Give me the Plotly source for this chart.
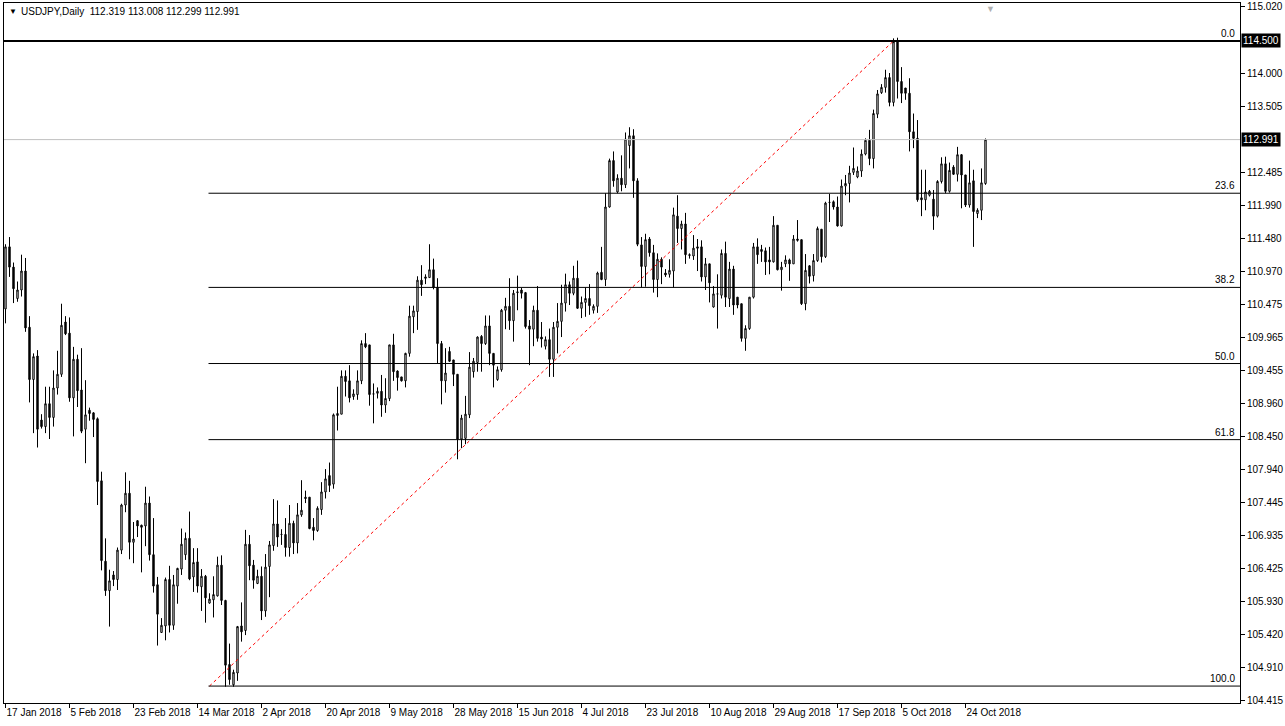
import pandas as pd
import plotly.graph_objects as go

# ---------------- data ----------------
opens = [110.40,111.35,111.04,110.56,110.69,110.98,110.12,109.32,109.68,108.70,
         108.60,108.95,108.74,109.19,109.40,110.20,110.03,109.04,109.63,109.16,
         108.56,108.85,108.81,108.72,107.77,106.54,106.09,106.33,106.26,106.71,
         107.40,107.58,106.83,107.16,107.09,107.08,107.43,106.64,106.18,105.45,
         105.55,106.26,105.56,106.16,106.42,106.64,106.89,106.30,106.53,106.15,
         106.31,105.90,105.95,106.01,106.48,105.94,104.96,104.65,104.83,105.55,
         105.48,106.80,106.48,106.20,106.31,105.78,106.46,106.78,107.11,106.95,
         106.95,106.75,107.12,106.82,107.25,107.52,107.52,107.06,107.01,107.33,
         107.60,107.85,107.72,108.77,108.79,109.37,109.30,109.06,109.09,109.30,
         109.87,109.85,109.10,109.11,109.14,108.93,109.03,109.85,109.45,109.36,
         109.30,109.72,110.28,110.36,110.84,110.89,110.88,111.00,110.73,109.87,
         109.30,109.75,109.62,109.40,108.41,108.42,108.78,109.44,109.58,109.98,
         109.87,110.14,109.72,109.32,109.47,110.38,110.44,110.22,110.65,110.69,
         110.65,110.14,110.09,110.38,109.97,109.83,109.93,109.63,110.12,110.21,
         110.49,110.77,110.64,110.87,110.41,110.50,110.56,110.38,110.44,110.96,
         110.85,111.96,112.67,112.19,112.40,112.30,112.90,113.05,112.36,111.38,
         111.05,111.47,111.26,110.85,111.16,110.95,110.93,110.98,111.82,111.63,
         111.70,111.23,111.21,111.35,111.35,110.89,111.09,110.43,110.63,110.61,
         111.25,110.56,111.01,110.58,110.48,109.95,110.10,110.58,111.35,111.31,
         111.29,111.15,111.12,111.68,111.00,111.09,111.15,111.09,111.47,111.46,
         110.48,111.06,110.91,111.14,111.62,111.20,112.03,112.04,111.96,111.67,
         112.28,112.32,112.49,112.42,112.51,112.77,112.98,112.70,113.38,113.71,
         113.79,113.94,113.56,114.49,113.88,113.78,113.70,113.11,113.01,112.10,
         112.07,112.14,112.08,111.82,112.35,112.62,112.20,112.57,112.46,112.76,
         112.45,111.99,112.36,111.86,111.91,112.319]
highs = [111.39,111.50,111.11,110.82,111.23,111.18,110.29,109.72,109.77,108.79,
         109.21,109.21,109.46,109.76,110.48,110.29,110.27,109.82,109.70,109.80,
         109.31,108.89,108.82,108.74,107.91,106.89,106.41,106.39,106.75,107.42,
         107.90,107.77,107.14,107.17,107.10,107.68,107.53,107.20,106.30,105.67,
         106.29,106.47,106.33,106.44,107.04,106.98,107.30,106.74,106.74,106.42,
         106.33,106.05,106.31,106.61,106.63,105.95,105.28,104.88,105.55,105.91,
         107.02,106.94,106.56,106.41,106.46,106.65,106.85,107.49,107.47,107.03,
         107.20,107.40,107.16,107.43,107.78,107.62,107.52,107.20,107.38,107.75,
         107.95,108.05,108.80,109.21,109.46,109.46,109.54,109.17,109.46,109.92,
         110.03,109.85,109.26,109.20,109.39,109.34,109.85,110.02,109.46,109.36,
         109.73,110.45,110.45,110.90,111.07,110.93,111.39,111.17,110.87,109.91,
         109.80,109.82,109.62,109.40,108.78,109.07,109.74,109.65,109.98,110.00,
         110.30,110.30,109.72,109.52,110.40,110.57,110.87,110.69,110.91,110.72,
         110.66,110.23,110.45,110.75,110.20,109.98,110.10,110.20,110.49,110.77,
         110.94,110.82,111.06,111.14,110.59,110.73,110.78,110.47,110.97,111.35,
         112.17,112.70,112.81,112.46,112.75,113.10,113.18,113.15,112.40,111.50,
         111.55,111.50,111.38,111.25,111.19,111.01,111.16,111.95,112.14,111.75,
         111.87,111.25,111.53,111.47,111.45,111.18,111.09,110.75,110.93,111.31,
         111.43,111.12,111.06,110.58,110.48,110.15,110.58,111.41,111.48,111.38,
         111.34,111.35,111.82,111.68,111.12,111.22,111.17,111.53,111.76,111.46,
         111.24,111.07,111.24,111.66,111.62,112.04,112.16,112.06,112.12,112.38,
         112.45,112.59,112.87,112.58,112.84,113.01,113.14,113.45,113.75,113.84,
         114.06,114.01,114.54,114.55,114.10,113.78,113.93,113.39,113.29,112.53,
         112.53,112.22,112.22,112.37,112.72,112.73,112.64,112.60,112.88,112.77,
         112.45,112.67,112.53,111.94,112.55,113.008]
lows = [110.18,110.89,110.49,110.51,110.59,110.05,108.97,108.50,108.28,108.57,
        108.50,108.41,108.60,109.09,109.36,110.00,108.98,108.45,108.90,108.50,
        108.04,108.69,108.44,107.40,106.40,106.01,105.54,106.16,106.10,106.65,
        107.29,106.57,106.51,106.91,106.37,106.77,106.55,106.06,105.25,105.45,
        105.33,105.45,105.49,105.89,106.33,106.56,106.25,106.07,106.06,105.78,
        105.60,105.89,105.68,106.00,105.87,104.62,104.65,104.62,104.71,105.31,
        105.41,106.25,106.12,106.19,105.64,105.69,105.99,106.70,106.76,106.79,
        106.61,106.61,106.65,106.66,107.22,107.43,107.03,106.86,106.99,107.25,
        107.50,107.60,107.65,108.54,108.79,109.06,108.97,109.01,109.01,109.25,
        109.80,108.92,108.65,109.03,108.75,108.81,108.99,109.30,109.15,109.29,
        109.20,109.67,110.03,110.08,110.60,110.78,110.88,110.70,109.57,108.94,
        109.12,109.59,109.22,108.10,108.27,108.33,108.73,109.35,109.44,109.44,
        109.85,109.54,109.20,109.30,109.44,110.09,110.08,109.90,110.38,110.56,
        110.10,109.54,109.83,109.90,109.81,109.78,109.36,109.36,109.72,109.97,
        110.36,110.46,110.61,110.40,110.26,110.28,110.31,110.33,110.34,110.84,
        110.75,111.95,112.27,112.17,112.20,112.25,112.55,112.10,111.36,110.73,
        110.74,111.20,110.65,110.58,110.78,110.89,110.88,110.73,111.41,111.31,
        111.09,111.17,111.15,110.98,110.82,110.69,110.50,110.42,110.10,110.56,
        110.43,110.43,110.31,110.41,109.90,109.76,110.08,110.56,111.09,111.12,
        110.92,110.93,111.11,110.99,110.68,111.04,110.83,111.09,111.43,110.46,
        110.38,110.79,110.82,111.12,111.11,111.18,111.73,111.92,111.66,111.66,
        112.14,112.03,112.45,112.40,112.42,112.75,112.60,112.55,113.32,113.69,
        113.71,113.50,113.50,113.62,113.55,113.60,112.81,112.86,112.04,111.82,
        111.91,112.12,111.61,111.80,112.32,112.17,112.18,112.45,112.35,111.94,
        111.96,111.95,111.35,111.79,111.76,112.299]
closes = [111.35,111.04,110.71,110.69,110.98,110.11,109.32,109.67,108.56,108.60,
          108.95,108.74,109.19,109.40,110.15,110.02,109.04,109.63,109.15,108.53,
          108.78,108.80,108.71,107.76,106.55,106.09,106.24,106.26,106.71,107.40,
          107.58,106.83,106.88,107.08,107.06,107.43,106.64,106.16,105.73,105.56,
          106.26,105.56,106.18,106.43,106.80,106.89,106.27,106.52,106.16,106.31,
          105.98,105.96,106.03,106.48,105.94,104.95,104.73,104.84,105.54,105.46,
          106.80,106.47,106.25,106.31,105.78,106.45,106.79,107.11,106.91,106.95,
          106.75,107.12,106.82,107.25,107.32,107.50,107.04,107.01,107.35,107.60,
          107.80,107.70,108.78,108.80,109.37,109.29,109.04,109.10,109.30,109.87,
          109.82,109.09,109.10,109.14,108.93,109.03,109.85,109.44,109.35,109.30,
          109.72,110.29,110.37,110.84,110.77,110.87,111.00,110.73,109.87,109.30,
          109.42,109.60,109.40,108.41,108.73,108.79,109.51,109.60,109.97,109.87,
          110.14,109.72,109.54,109.47,110.38,110.44,110.22,110.64,110.66,110.64,
          110.13,110.09,110.38,109.95,109.94,109.93,109.63,110.12,110.21,110.49,
          110.77,110.64,110.87,110.41,110.50,110.56,110.45,110.44,110.95,110.85,
          111.96,112.67,112.36,112.40,112.30,113.00,113.05,112.36,111.39,111.05,
          111.46,111.26,110.85,111.16,111.04,110.92,110.99,111.84,111.63,111.70,
          111.23,111.22,111.33,111.33,110.89,111.09,110.80,110.63,110.63,111.25,
          110.58,111.01,110.46,110.46,109.95,110.10,110.58,111.35,111.23,111.28,
          111.12,111.12,111.68,111.00,111.04,111.15,111.09,111.47,111.45,110.48,
          110.99,110.90,111.14,111.63,111.20,112.02,112.03,111.96,111.67,112.28,
          112.32,112.48,112.55,112.51,112.77,112.98,112.70,113.39,113.69,113.79,
          113.94,113.56,114.49,113.88,113.70,113.70,113.11,113.01,112.07,112.07,
          112.19,112.20,111.82,112.35,112.62,112.20,112.52,112.46,112.76,112.45,
          111.99,112.33,111.89,111.91,112.33,112.991]

first_date = "2018-01-17"
last_date = "2018-10-30"
label_step = 16

y_ticks = [115.020, 114.000, 113.505, 112.485, 111.990, 111.480, 110.970,
           110.475, 109.965, 109.455, 108.960, 108.450, 107.940, 107.445,
           106.935, 106.425, 105.930, 105.420, 104.910, 104.415]

symbol = "USDJPY,Daily"
last_ohlc = [112.319, 113.008, 112.299, 112.991]
hline_price = 114.500
bid_price = 112.991

fib_high = 114.50
fib_low = 104.63
fib_levels = [0.0, 23.6, 38.2, 50.0, 61.8, 100.0]
fib_start_bar = 51
fib_end_bar = 222

# ---------------- figure ----------------
dates = pd.bdate_range(first_date, last_date, freq="C",
                       weekmask="Sun Mon Tue Wed Thu Fri")[:len(opens)]
idx = list(range(len(opens)))
tickvals = idx[::label_step]
ticktext = [f"{d.day} {d.strftime('%b %Y')}" for d in dates[::label_step]]

W, H = 1285, 726
ml, mr, mt, mb = 4, 45, 3, 23
x_range = [-0.375, 308.625]
y_range = [104.371, 115.081]

FONT = "Liberation Sans"
FS = 10

fig = go.Figure()
fig.add_trace(go.Candlestick(
    x=idx, open=opens, high=highs, low=lows, close=closes,
    increasing=dict(line=dict(color="black", width=1), fillcolor="white"),
    decreasing=dict(line=dict(color="black", width=1), fillcolor="black"),
    whiskerwidth=0, showlegend=False, hoverinfo="skip"))

# fib trend line (red dotted)
fig.add_trace(go.Scatter(
    x=[fib_start_bar, fib_end_bar], y=[fib_low, fib_high], mode="lines",
    line=dict(color="red", width=1, dash="3px,3px"),
    showlegend=False, hoverinfo="skip"))

shapes = []
shapes.append(dict(type="line", xref="paper", yref="y", x0=0, x1=1,
                   y0=bid_price, y1=bid_price,
                   line=dict(color="#c0c0c0", width=1)))
shapes.append(dict(type="line", xref="paper", yref="y", x0=0, x1=1,
                   y0=hline_price, y1=hline_price,
                   line=dict(color="black", width=2)))
annotations = []
for lv in fib_levels:
    price = fib_high - (fib_high - fib_low) * lv / 100.0
    shapes.append(dict(type="line", xref="x", yref="y",
                       x0=fib_start_bar - 0.25, x1=x_range[1],
                       y0=price, y1=price,
                       line=dict(color="black", width=1)))
    annotations.append(dict(x=1, xref="paper", y=price, yref="y",
                            text=f"{lv:.1f}", showarrow=False,
                            xanchor="right", yanchor="bottom", xshift=-3,
                            font=dict(family=FONT, size=FS, color="black")))

for p in (hline_price, bid_price):
    annotations.append(dict(x=1, xref="paper", y=p, yref="y",
                            text=f"{p:.3f}", showarrow=False,
                            xanchor="left", yanchor="middle", xshift=1,
                            bgcolor="black", borderpad=1,
                            font=dict(family=FONT, size=FS, color="white")))

annotations.append(dict(x=0, xref="paper", y=1, yref="paper",
                        text="▼", showarrow=False, xanchor="left",
                        yanchor="top", xshift=3, yshift=-2,
                        font=dict(family=FONT, size=8, color="black")))
annotations.append(dict(x=0, xref="paper", y=1, yref="paper",
                        text=f"{symbol}  " + " ".join(f"{v:.3f}" for v in last_ohlc),
                        showarrow=False, xanchor="left", yanchor="top",
                        xshift=15, yshift=-1,
                        font=dict(family=FONT, size=FS, color="black")))
annotations.append(dict(x=246.3, xref="x", y=1, yref="paper",
                        text="▼", showarrow=False, xanchor="center",
                        yanchor="top", yshift=1,
                        font=dict(family=FONT, size=9, color="#b0b0b0")))

fig.update_layout(
    width=W, height=H,
    margin=dict(l=ml, r=mr, t=mt, b=mb, autoexpand=False),
    paper_bgcolor="white", plot_bgcolor="white",
    boxgap=0.5,
    shapes=shapes, annotations=annotations,
    showlegend=False,
    xaxis=dict(range=x_range, showgrid=False, zeroline=False,
               rangeslider=dict(visible=False), automargin=False,
               tickmode="array", tickvals=tickvals, ticktext=ticktext,
               tickangle=0,
               ticks="outside", ticklen=4, tickcolor="black",
               ticklabelposition="outside right",
               tickfont=dict(family=FONT, size=FS, color="black"),
               showline=True, linecolor="black", linewidth=1, mirror=True),
    yaxis=dict(range=y_range, side="right", showgrid=False, zeroline=False,
               automargin=False,
               tickmode="array", tickvals=y_ticks,
               ticktext=[f"{v:.3f}" for v in y_ticks],
               ticks="outside", ticklen=4, tickcolor="black",
               tickfont=dict(family=FONT, size=FS, color="black"),
               showline=True, linecolor="black", linewidth=1, mirror=True),
)

fig.write_html("out.html", config={"displayModeBar": False},
               post_script="document.body.style.margin='0';")
